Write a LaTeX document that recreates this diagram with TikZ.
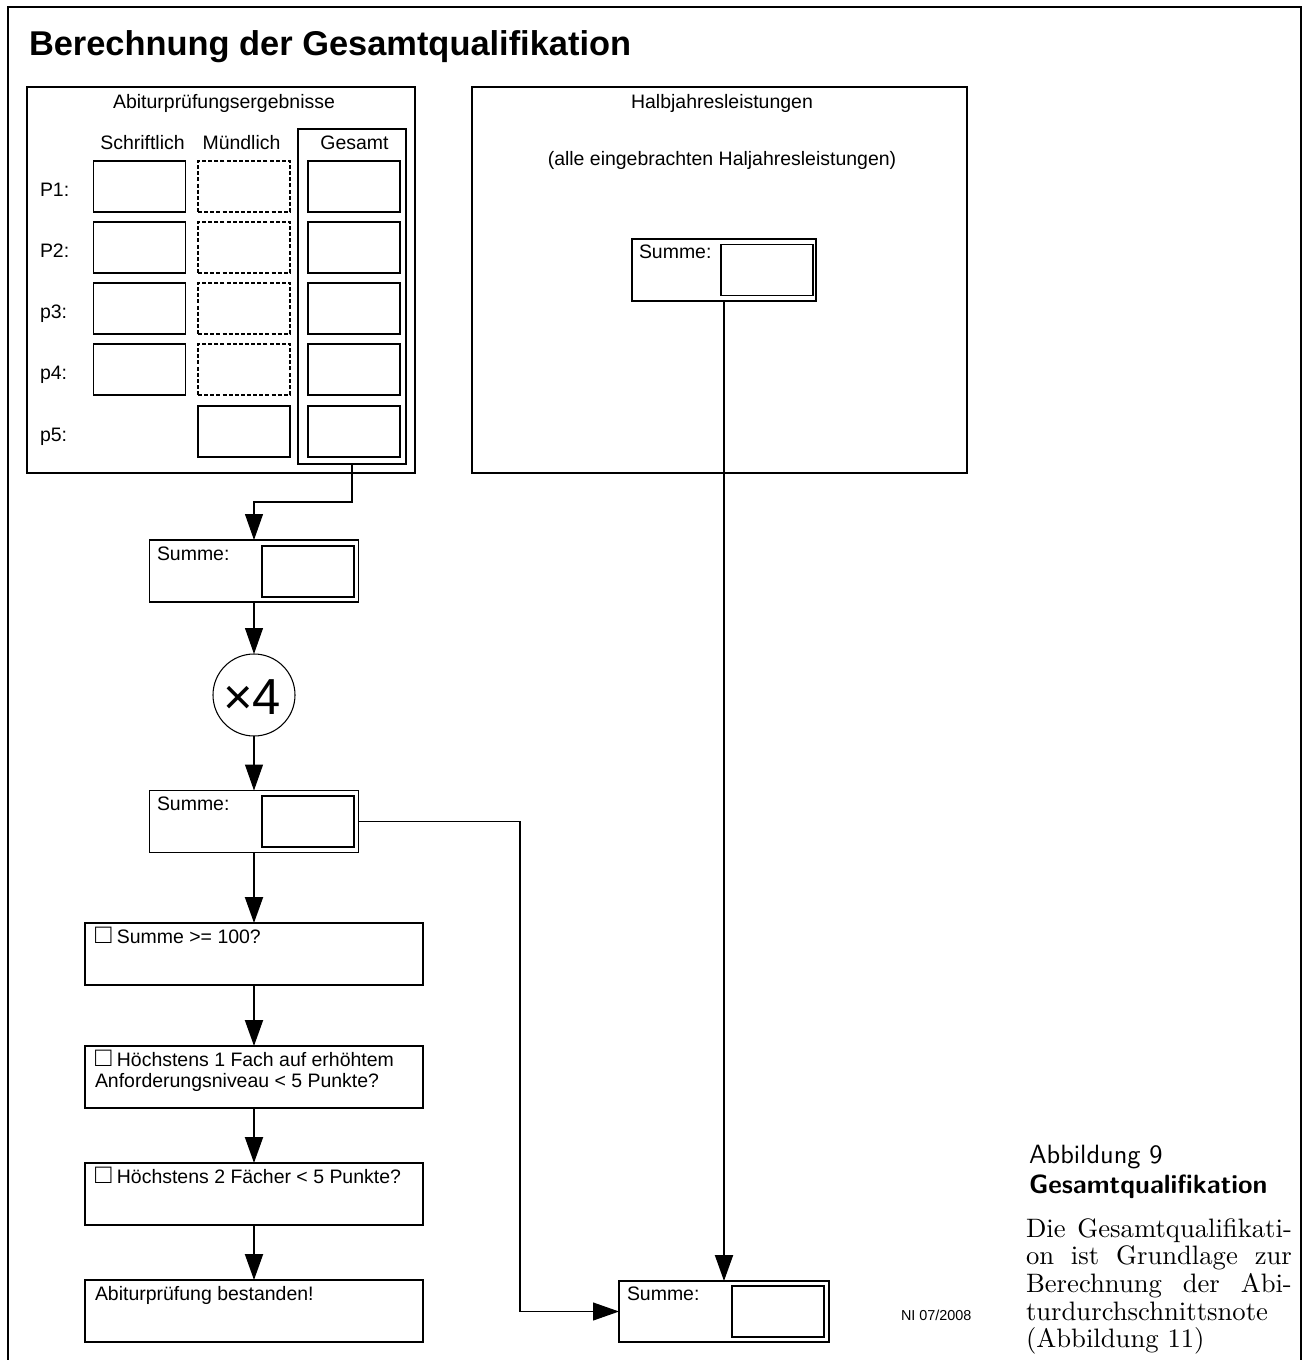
\documentclass[tikz,border=0pt]{standalone}
\usepackage{fontspec}
\newfontfamily\arialf{Liberation Sans}
\usetikzlibrary{arrows.meta,calc}
\newcommand{\cbox}{{\fontsize{20.5}{20}\selectfont □}}
\begin{document}
\begin{tikzpicture}[x=0.75pt,y=-0.75pt,
  every node/.style={inner sep=0pt, outer sep=0pt},
  rc/.style 2 args={minimum width=#1*0.75pt, minimum height=#2*0.75pt},
  txt/.style={font=\arialf\fontsize{14.6}{17.5}\selectfont},
  panel/.style={draw, line width=0.9pt},
  cell/.style={draw, line width=0.9pt, rc={92}{51}},
  dcell/.style={draw, line width=1.1pt, dash pattern=on 3pt off 1.6pt, rc={92}{51}},
  inbox/.style={draw, line width=1.1pt, rc={92}{51}},
  sbox/.style={draw, line width=0.9pt, rc={209}{62}},
  chk/.style={draw, line width=2.2pt, rc={338}{62}},
  arrthin/.style={line width=0.8pt, -{Triangle[length=19.5pt,width=13.5pt]}},
  arrthick/.style={line width=1.5pt, -{Triangle[length=19.5pt,width=13.5pt]}}]
\useasboundingbox (0,0) rectangle (1310,1360);
% outer frame
\draw[line width=0.9pt] (8,7) rectangle (1301,1380);
% title
\node[anchor=base west, font=\arialf\bfseries\fontsize{25.8}{30}\selectfont] (title) at (29,55) {Berechnung der Gesamtqualifikation};

% left panel
\node[panel, rc={388}{386}] (abi) at (221,280) {};
\node[txt, anchor=base] (abit) at (224,108) {Abiturprüfungsergebnisse};
\node[txt, anchor=base] (hs) at (142.5,149) {Schriftlich};
\node[txt, anchor=base] (hm) at (241.5,149) {Mündlich};
\node[panel, rc={108}{335}] (gframe) at (352,296.5) {};
\node[txt, anchor=base] (hg) at (354.5,149) {Gesamt};
\foreach \i/\y/\lab in {1/186.5/P1:,2/247.5/P2:,3/308.5/p3:,4/369.5/p4:,5/431.5/p5:}{
  \node[txt, anchor=base west] (l\i) at (40,\y+10) {\lab};
  \ifnum\i<5
    \node[cell] (s\i) at (139.5,\y) {};
    \node[dcell] (m\i) at (244,\y) {};
  \else
    \node[cell] (m\i) at (244,\y) {};
  \fi
  \node[cell] (g\i) at (354,\y) {};
}

% right panel
\node[panel, rc={495}{386}] (hj) at (719.5,280) {};
\node[txt, anchor=base] (hjt) at (722,108) {Halbjahresleistungen};
\node[txt, anchor=base] (hjs) at (722,165) {(alle eingebrachten Haljahresleistungen)};
\node[sbox, rc={184}{62}] (sumH) at (724,270) {};
\node[inbox] (sumHi) at (767,270) {};
\node[txt, anchor=base west] (sumHt) at (639,258) {Summe:};

% left flow
\node[sbox] (sum1) at (254,571) {};
\node[inbox] (sum1i) at (308,571.5) {};
\node[txt, anchor=base west] (sum1t) at (157,560) {Summe:};

\node[draw, circle, line width=0.8pt, minimum size=61.5pt] (circ) at (254,695) {};
\node[font=\arialf\fontsize{38}{40}\selectfont] (circt) at (252,697) {×4};

\node[sbox] (sum2) at (254,821.5) {};
\node[inbox] (sum2i) at (308,821.5) {};
\node[txt, anchor=base west] (sum2t) at (157,810) {Summe:};

\node[chk] (c1) at (254,954) {};
\node[txt, anchor=base west] (c1t) at (95,943) {\cbox\ Summe >= 100?};
\node[chk] (c2) at (254,1077) {};
\node[txt, anchor=base west] (c2t) at (95,1066) {\cbox\ Höchstens 1 Fach auf erhöhtem};
\node[txt, anchor=base west] (c2u) at (95,1087) {Anforderungsniveau < 5 Punkte?};
\node[chk] (c3) at (254,1194) {};
\node[txt, anchor=base west] (c3t) at (95,1183) {\cbox\ Höchstens 2 Fächer < 5 Punkte?};
\node[chk] (c4) at (254,1311) {};
\node[txt, anchor=base west] (c4t) at (95,1300) {Abiturprüfung bestanden!};

% result box
\node[sbox, rc={210}{61}] (sumR) at (724,1311.5) {};
\node[inbox] (sumRi) at (778,1311.5) {};
\node[txt, anchor=base west] (sumRt) at (627,1300) {Summe:};

\node[anchor=base west, font=\arialf\fontsize{10.8}{13}\selectfont] (ni) at (901,1320) {NI 07/2008};

% connectors
\draw[arrthin] (gframe.south) -- ++(0,38) -| (sum1.north);
\draw[arrthin] (sum1.south) -- (circ.north);
\draw[arrthin] (circ.south) -- (sum2.north);
\coordinate (turn) at (520,821.5);
\draw[arrthin] (sum2.east) -- (turn) |- (sumR.west);
\draw[arrthick] (sum2.south) -- (c1.north);
\draw[arrthick] (c1.south) -- (c2.north);
\draw[arrthick] (c2.south) -- (c3.north);
\draw[arrthick] (c3.south) -- (c4.north);
\draw[arrthick] (sumH.south) -- (sumR.north);

% caption
\node[anchor=base west, scale=1.98, font=\sffamily] (capA) at (1029,1163) {Abbildung 9};
\node[anchor=base west, scale=1.98, font=\sffamily\bfseries] (capB) at (1029,1193) {Gesamtqualifikation};
\node[anchor=base west, scale=2.0] (capC) at (1026,1237) {\parbox[t]{99.7pt}{\fontsize{10}{10.4}\selectfont Die Gesamtqualifikati-\linebreak on ist Grundlage zur\linebreak Berechnung der Abi-\linebreak turdurchschnittsnote\linebreak (Abbildung 11)}};
\end{tikzpicture}
\end{document}
